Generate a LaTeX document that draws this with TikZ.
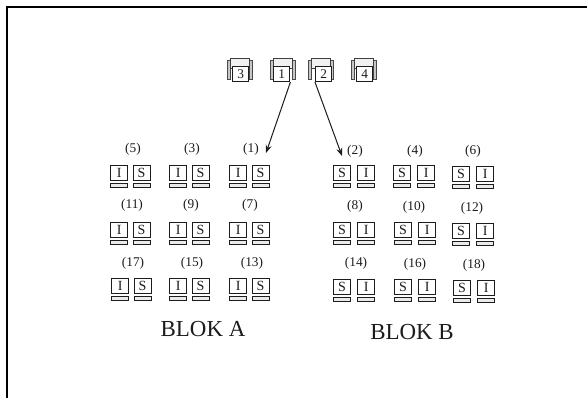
\documentclass[tikz,border=0pt]{standalone}
\usepackage{fontspec}
\setmainfont{Liberation Serif}
\usetikzlibrary{arrows.meta}
\definecolor{ink}{HTML}{1C1C1C}
\tikzset{
  px/.style={x=0.75pt,y=-0.75pt},
  frameline/.style={draw=black,line width=1.8pt},
  screen/.style={draw=ink,line width=0.85pt,fill=white,anchor=north west,inner sep=0pt,minimum width=12.8pt,minimum height=11.4pt,font=\fontsize{10.5}{12}\selectfont,text=ink},
  base/.style={draw=ink,line width=0.7pt,fill=black!8,anchor=north west,inner sep=0pt,minimum width=12.8pt,minimum height=3pt},
  seat/.style={draw=ink,line width=0.85pt,fill=white,anchor=north west,inner sep=0pt,minimum width=12.2pt,minimum height=11.2pt,font=\fontsize{10}{12}\selectfont,text=ink},
  chairpart/.style={draw=ink!80,line width=0.6pt,fill=black!22},
  chairback/.style={draw=ink!85,line width=0.7pt,fill=black!6},
  num/.style={font=\fontsize{10}{12}\selectfont,text=ink,inner sep=0pt},
  blocklabel/.style={font=\fontsize{17.2}{20}\selectfont,text=ink,inner sep=0pt},
  conn/.style={draw=ink,line width=0.75pt,-{Stealth[length=6pt,width=4.5pt]}}
}
\newcommand{\pcunit}[4]{%
  \node[base] (b#1) at (#2,#3+18) {};
  \node[screen] (s#1) at (#2,#3) {#4};
}
\newcommand{\chairunit}[4]{%
  \draw[chairpart] (#2,60) rectangle (#2+3,79);
  \draw[chairpart] (#2+22,60) rectangle (#2+25,79);
  \draw[chairback] (#2+3,58) rectangle (#2+22,68);
  \node[seat] (#1) at (#2+#3,66) {#4};
}
\begin{document}
\begin{tikzpicture}[px]
\useasboundingbox (0,0) rectangle (587,398);
\fill[white] (0,0) rectangle (587,398);
\draw[frameline] (587,7) -- (7,7) -- (7,398);

\chairunit{c3}{227}{5}{3}
\chairunit{c1}{270}{3}{1}
\chairunit{c2}{308}{7}{2}
\chairunit{c4}{351}{5}{4}

% block A
\foreach \n/\x/\y in {5/110/165,3/169/165,1/229/165,11/110/222,9/169/222,7/229/222,17/111/278,15/169/278,13/229/278}{
  \pcunit{i\n}{\x}{\y}{I}
  \pcunit{j\n}{\x+22.5}{\y}{S}
}
% block B
\foreach \n/\x/\y in {2/333/165,4/393/165,6/452/166,8/333/222,10/394/222,12/452/223,14/333/279,16/394/279,18/453/280}{
  \pcunit{i\n}{\x}{\y}{S}
  \pcunit{j\n}{\x+24}{\y}{I}
}
% numbers
\foreach \n/\x/\y in {5/133/149,3/192/149,1/251/149,11/132/205,9/191/205,7/250/205,17/133/263,15/192/263,13/252/263,
  2/355/151,4/415/151,6/473/151,8/355/206,10/414/207,12/472/208,14/356/263,16/415/264,18/474/265}{
  \node[num] (n\n) at (\x,\y) {(\n)};
}
\node[blocklabel] (blokA) at (203,329) {BLOK A};
\node[blocklabel] (blokB) at (412,332) {BLOK B};

\coordinate (t1) at (266,153);
\coordinate (t2) at (342,156);
\draw[conn] (c1.south east) -- (t1);
\draw[conn] (c2.south west) -- (t2);
\end{tikzpicture}
\end{document}
